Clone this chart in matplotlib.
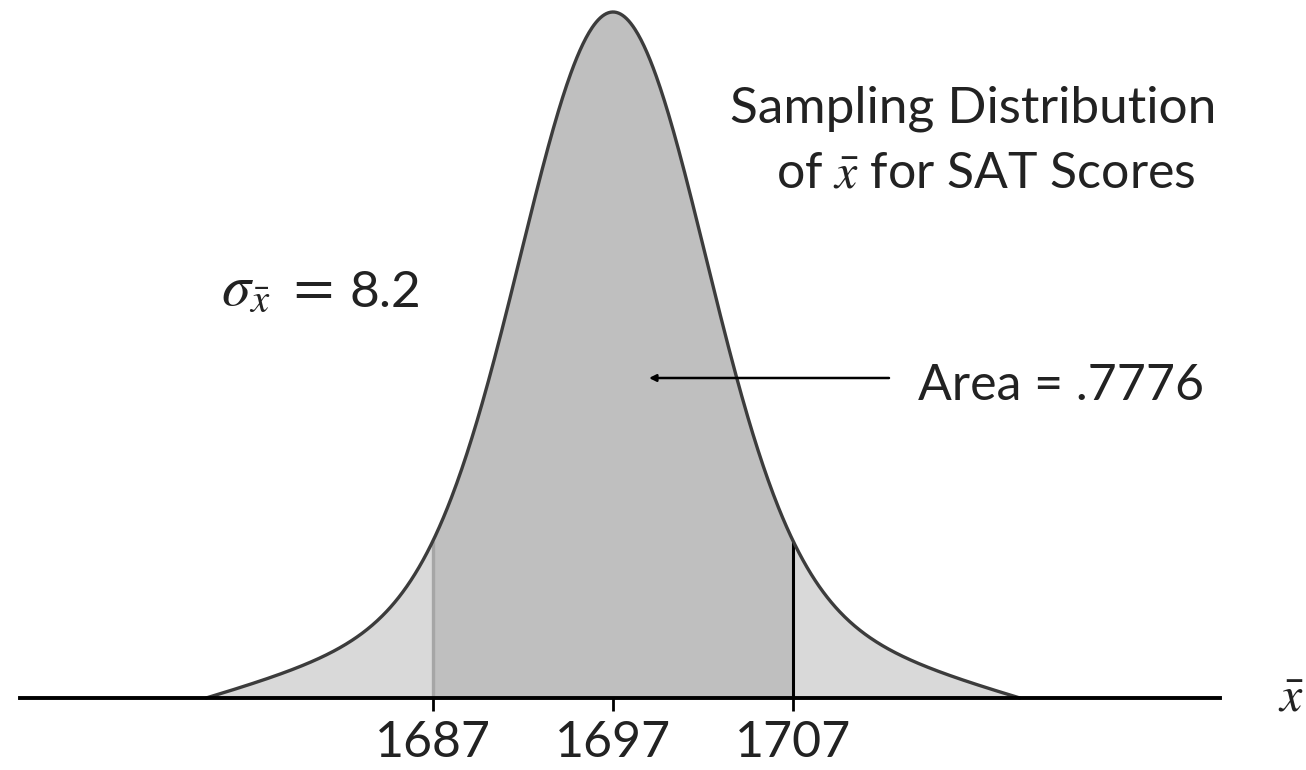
import numpy as np
import matplotlib
matplotlib.use("Agg")
import matplotlib.pyplot as plt

# values
mean = 1697
tick_values = [1687, 1697, 1707]
tick_labels = ["1687", "1697", "1707"]
lower, upper = 1687, 1707
sigma_label = "8.2"
area_label = ".7776"

# schematic curve shape (core + wide part, drawn out to +/- half_span)
core_sd = 5.0
wide_sd = 11.0
wide_weight = 0.18
half_span = 22.6

plt.rcParams["font.family"] = ["Lato", "DejaVu Sans"]
plt.rcParams["mathtext.fontset"] = "stix"

W, H = 1306, 770
px = 18.0  # pixels per score unit
x0_px, base_px, peak_px = 613, 698, 12


def shape(x):
    u = x - mean
    h = (1 - wide_weight) * np.exp(-u**2 / (2 * core_sd**2)) + \
        wide_weight * np.exp(-u**2 / (2 * wide_sd**2))
    edge = wide_weight * np.exp(-half_span**2 / (2 * wide_sd**2))
    return h - edge * (u / half_span) ** 4


def fx(xp):
    return xp / W


def fy(yp):
    return 1 - yp / H


fig = plt.figure(figsize=(W / 100, H / 100), dpi=100)
ax = fig.add_axes([0, 0, 1, 1])
height = base_px - peak_px
ax.set_xlim(mean - x0_px / px, mean + (W - x0_px) / px)
ax.set_ylim(-(H - base_px) / height, base_px / height)

x = np.linspace(mean - half_span, mean + half_span, 800)
y = shape(x)

ax.fill_between(x, 0, y, where=(x <= lower), color="#d9d9d9", lw=0)
ax.fill_between(x, 0, y, where=(x >= upper), color="#d9d9d9", lw=0)
ax.fill_between(x, 0, y, where=(x >= lower) & (x <= upper), color="#bfbfbf", lw=0)
ax.vlines(lower, 0, shape(lower), color="#a6a6a6", lw=2.4)
ax.vlines(upper, 0, shape(upper), color="black", lw=2.2)
ax.plot(x, y, color="#3c3c3c", lw=2.4, solid_capstyle="round")

# axis line with the three ticks
for s in ["top", "left", "right"]:
    ax.spines[s].set_visible(False)
ax.spines["bottom"].set_position(("data", 0))
ax.spines["bottom"].set_bounds(mean - (x0_px - 20) / px, mean + (1220 - x0_px) / px)
ax.spines["bottom"].set_linewidth(2.8)
ax.set_yticks([])
ax.set_xticks(tick_values)
ax.set_xticklabels(tick_labels, fontsize=36, color="#222222")
ax.tick_params(axis="x", direction="out", length=9, width=2, pad=7)

# arrow pointing into the centre area
ya = (base_px - 378) / height
ax.annotate("", xy=(mean + (649 - x0_px) / px, ya),
            xytext=(mean + (889 - x0_px) / px, ya),
            arrowprops=dict(arrowstyle="-|>", color="black", lw=1.8,
                            mutation_scale=10, shrinkA=0, shrinkB=0))

fig.text(fx(918), fy(400), "Area = " + area_label, fontsize=36, color="#222222")
fig.text(fx(730), fy(123), "Sampling Distribution", fontsize=37, color="#222222")
fig.text(fx(776), fy(188), r"of $\bar{x}$ for SAT Scores", fontsize=36, color="#222222")
fig.text(fx(221), fy(305), r"$\sigma_{\bar{x}}\ =$", fontsize=42, color="#222222")
fig.text(fx(350), fy(307), sigma_label, fontsize=37, color="#222222")
fig.text(fx(1278), fy(712), r"$\bar{x}$", fontsize=36, color="#222222")

fig.savefig("out.png", dpi=100)
